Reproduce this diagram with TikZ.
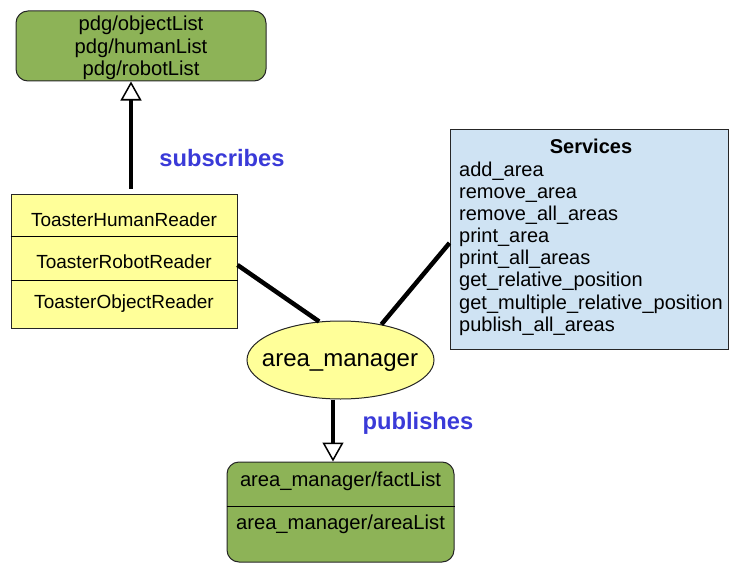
\documentclass[tikz,border=0pt]{standalone}
\usepackage{fontspec}
\setmainfont{Liberation Sans}
\usetikzlibrary{shapes.geometric,arrows.meta,calc}
\definecolor{topicgreen}{HTML}{8DB357}
\definecolor{readeryellow}{HTML}{FFFF99}
\definecolor{svcblue}{HTML}{CFE3F3}
\definecolor{labelblue}{HTML}{3A3AD8}
\tikzset{
  topicbox/.style={draw=black!85, line width=1pt, fill=topicgreen, rounded corners=12pt, inner sep=0pt},
  plainbox/.style={draw=black!85, line width=1pt, inner sep=0pt},
  txt/.style={inner sep=0pt, font=\fontsize{20.2}{22.5}\selectfont, align=center},
  rtxt/.style={inner sep=0pt, font=\fontsize{19}{22}\selectfont},
  lbl/.style={inner sep=0pt, font=\fontsize{23.7}{26}\selectfont\bfseries, text=labelblue},
  link/.style={line width=4.5pt, black},
  flow/.style={line width=4.5pt, black, -{Triangle[open, fill=white, length=19pt, width=21pt, line width=1.5pt]}},
}
\begin{document}
\begin{tikzpicture}[x=1pt,y=-1pt]
\useasboundingbox (0,0) rectangle (750,578);
% top topic box
\node[topicbox, minimum width=250pt, minimum height=70pt] (top) at (141,46) {};
\node[txt] (toptxt) at (141,48) {pdg/objectList\\pdg/humanList\\pdg/robotList};
% reader box
\node[plainbox, fill=readeryellow, minimum width=226pt, minimum height=134pt] (yel) at (124,261) {};
\node[rtxt] (r1) at (124,219.5) {ToasterHumanReader};
\node[rtxt] (r2) at (124,261.5) {ToasterRobotReader};
\node[rtxt] (r3) at (124,303.5) {ToasterObjectReader};
\draw[line width=0.8pt] (yel.west |- 0,236) -- (yel.east |- 0,236);
\draw[line width=0.8pt] (yel.west |- 0,280) -- (yel.east |- 0,280);
% services box
\node[plainbox, fill=svcblue, minimum width=278pt, minimum height=220pt] (svc) at (589,239) {};
\node[inner sep=0pt, font=\fontsize{20}{22}\selectfont\bfseries] (svctitle) at (591,146) {Services};
\node[inner sep=0pt, anchor=west, align=left, font=\fontsize{20}{22.15}\selectfont] (svclist) at (459,248.5)
  {add\_area\\remove\_area\\remove\_all\_areas\\print\_area\\print\_all\_areas\\get\_relative\_position\\get\_multiple\_relative\_position\\publish\_all\_areas};
% area manager
\node[ellipse, draw=black!85, line width=1pt, fill=readeryellow, minimum width=187pt, minimum height=78pt, inner sep=0pt] (ell) at (340.5,360) {};
\node[inner sep=0pt, font=\fontsize{24}{26}\selectfont] (elltxt) at (340,362.5) {area\_manager};
% bottom topic box
\node[topicbox, minimum width=227pt, minimum height=100pt] (bot) at (340.5,512) {};
\node[txt] (b1) at (340.5,481.5) {area\_manager/factList};
\node[txt] (b2) at (340.5,524.5) {area\_manager/areaList};
\draw[line width=0.8pt] (bot.west |- 0,506) -- (bot.east |- 0,506);
% connectors
\draw[flow] ([xshift=7pt,yshift=5pt]yel.north) -- ([xshift=-10pt]top.south);
\draw[flow] ([xshift=-7.5pt]ell.south) -- ([xshift=-7.5pt]bot.north);
\draw[link] ([yshift=-4pt]yel.east) -- (ell.119);
\draw[link] ([yshift=-4pt]svc.west) -- (ell.41);
% labels
\node[lbl] (sub) at (222,158) {subscribes};
\node[lbl] (pub) at (418,423) {publishes};
\end{tikzpicture}
\end{document}
